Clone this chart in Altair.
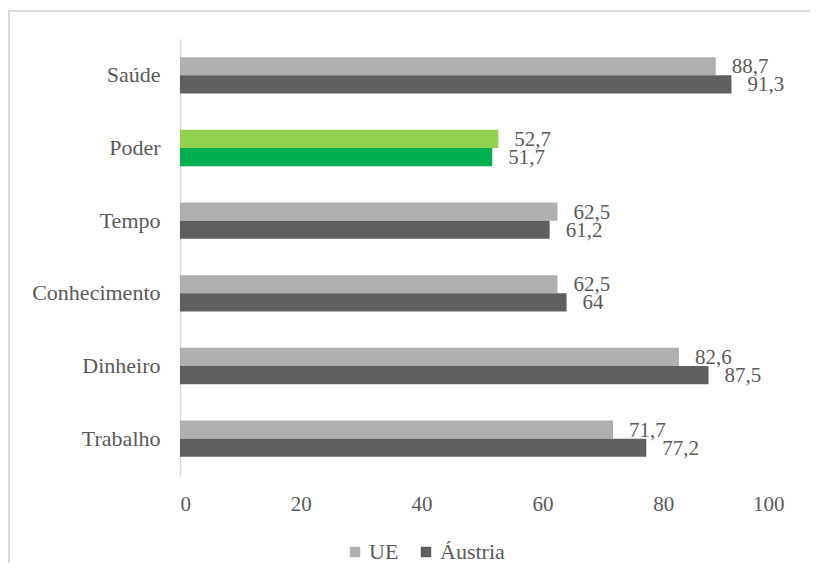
import altair as alt
import pandas as pd

categories = ["Saúde", "Poder", "Tempo", "Conhecimento", "Dinheiro", "Trabalho"]
ue = [88.7, 52.7, 62.5, 62.5, 82.6, 71.7]
austria = [91.3, 51.7, 61.2, 64, 87.5, 77.2]
series_names = ["UE", "Áustria"]
highlight = "Poder"

def fmt(v):
    s = ("%g" % v)
    return s.replace(".", ",")

rows = []
for c, a, b in zip(categories, ue, austria):
    for s, v in (("UE", a), ("Áustria", b)):
        key = s if c != highlight else s + " (Poder)"
        rows.append({"cat": c, "series": s, "value": v, "label": fmt(v), "key": key})
df = pd.DataFrame(rows)

FONT = "Times New Roman"
TXT = "#595959"

y_enc = alt.Y("cat:N", sort=categories, title=None,
              scale=alt.Scale(paddingInner=0.5, paddingOuter=0.25),
              axis=alt.Axis(ticks=False, domainColor="#d9d9d9", domainWidth=1.5,
                            labelFont=FONT, labelFontSize=22, labelColor=TXT,
                            labelPadding=20))
yoff = alt.YOffset("series:N", sort=series_names, scale=alt.Scale(paddingInner=0, paddingOuter=0))

base = alt.Chart(df)

bars = base.mark_bar().encode(
    x=alt.X("value:Q", title=None, scale=alt.Scale(domain=[0, 100]),
            axis=alt.Axis(values=[0, 20, 40, 60, 80, 100], grid=False, ticks=False,
                          domain=False, labelFont=FONT, labelFontSize=21,
                          labelColor=TXT, labelPadding=18)),
    y=y_enc,
    yOffset=yoff,
    color=alt.Color("key:N", title=None,
                    scale=alt.Scale(domain=["UE", "Áustria", "UE (Poder)", "Áustria (Poder)"],
                                    range=["#afafaf", "#5f5f5f", "#92d050", "#00b050"]),
                    legend=alt.Legend(values=["UE", "Áustria"], orient="none",
                                      legendX=164, legendY=502, direction="horizontal",
                                      symbolType="square", symbolSize=110,
                                      symbolStrokeWidth=0,
                                      labelFont=FONT, labelFontSize=22, labelColor=TXT,
                                      columnPadding=16, labelOffset=3)),
)

labels = base.mark_text(align="left", baseline="middle", dx=16, dy=1, font=FONT,
                        fontSize=21, color=TXT).encode(
    x="value:Q",
    y=alt.Y("cat:N", sort=categories),
    yOffset=yoff,
    text="label:N",
)

frame = alt.Chart(pd.DataFrame({"f": [0]})).mark_rect(
    fill=None, stroke="#d9d9d9", strokeWidth=2, clip=False
).encode(x=alt.value(-171), x2=alt.value(700), y=alt.value(-28), y2=alt.value(600))

chart = alt.layer(frame, bars, labels).properties(
    width=604, height=436,
    autosize=alt.AutoSizeParams(type="none"),
    padding={"left": 172, "top": 31, "right": 26, "bottom": 88},
    background="white",
).configure_view(stroke=None, strokeWidth=0, strokeOpacity=0)

chart.save("out.html", embed_options={"renderer": "svg", "actions": False})
